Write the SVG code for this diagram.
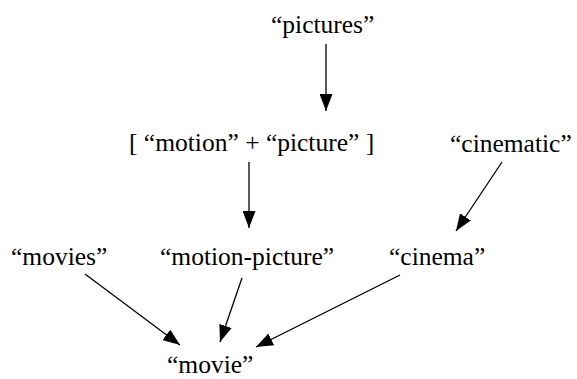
<svg xmlns="http://www.w3.org/2000/svg" width="577" height="379" viewBox="0 0 577 379">
<style>
.e{stroke:#000;stroke-width:1.3;fill:none;marker-end:url(#ah)}
</style>
<defs>
<marker id="ah" markerUnits="userSpaceOnUse" markerWidth="18" markerHeight="13" refX="17" refY="6.5" orient="auto" viewBox="0 0 18 13">
<path d="M0,0 L17,6.5 L0,13 z" fill="#000"/>
</marker>
</defs>
<rect width="577" height="379" fill="#fff"/>
<g id="connectors">
<line class="e" x1="326" y1="44" x2="326" y2="111"/>
<line class="e" x1="249" y1="162" x2="249" y2="228"/>
<line class="e" x1="502" y1="162" x2="456" y2="231"/>
<line class="e" x1="85" y1="274" x2="180" y2="345"/>
<line class="e" x1="242" y1="278" x2="220" y2="342"/>
<line class="e" x1="400" y1="275" x2="256" y2="347"/>
</g>
<g id="n-pictures"><text font-family="Liberation Serif" font-size="25.5" x="271" y="33">“pictures”</text></g>
<g id="n-motion-plus-picture"><text font-family="Liberation Serif" font-size="25.5" x="129" y="151">[ “motion” + “picture” ]</text></g>
<g id="n-cinematic"><text font-family="Liberation Serif" font-size="25.5" x="450" y="152">“cinematic”</text></g>
<g id="n-movies"><text font-family="Liberation Serif" font-size="25.5" x="11" y="265">“movies”</text></g>
<g id="n-motion-picture"><text font-family="Liberation Serif" font-size="25.5" x="160" y="265">“motion-picture”</text></g>
<g id="n-cinema"><text font-family="Liberation Serif" font-size="25.5" x="389" y="265">“cinema”</text></g>
<g id="n-movie"><text font-family="Liberation Serif" font-size="25.5" x="167" y="373">“movie”</text></g>
</svg>
